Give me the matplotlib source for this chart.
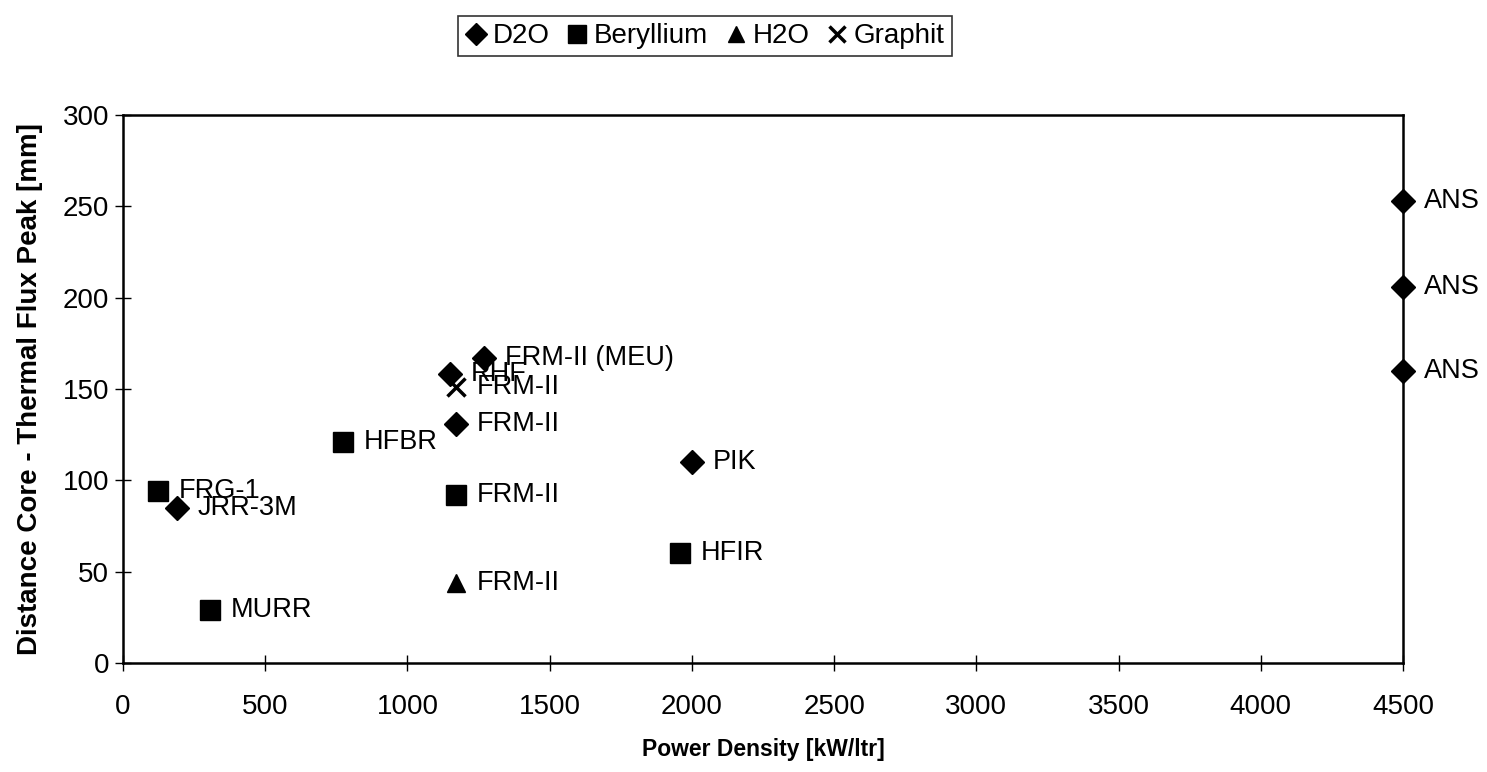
import matplotlib.pyplot as plt
from matplotlib import rcParams

rcParams.update({'font.family': ['Liberation Sans', 'DejaVu Sans']})

# D2O moderated reactors
d2o_x = [4500, 4500, 4500, 1270, 1150, 1170, 2000, 190]
d2o_y = [253, 206, 160, 167, 158, 131, 110, 85]
d2o_names = ['ANS', 'ANS', 'ANS', 'FRM-II (MEU)', 'RHF', 'FRM-II', 'PIK', 'JRR-3M']

# Beryllium
be_x = [123, 773, 1170, 1958, 306]
be_y = [94, 121, 92, 60, 29]
be_names = ['FRG-1', 'HFBR', 'FRM-II', 'HFIR', 'MURR']

# H2O
h2o_x = [1170]
h2o_y = [44]
h2o_names = ['FRM-II']

# Graphit
gr_x = [1170]
gr_y = [151]
gr_names = ['FRM-II']

fig = plt.figure(figsize=(14.87, 7.72), dpi=100)
ax = fig.add_axes([0.0827, 0.1412, 0.8608, 0.7098])

series = [
    (d2o_x, d2o_y, d2o_names, 'D', 12, 'D2O'),
    (be_x, be_y, be_names, 's', 14, 'Beryllium'),
    (h2o_x, h2o_y, h2o_names, '^', 13, 'H2O'),
    (gr_x, gr_y, gr_names, 'x', 13, 'Graphit'),
]
for xs, ys, names, mk, ms, lab in series:
    ax.plot(xs, ys, linestyle='none', marker=mk, markersize=ms, color='black',
            markeredgewidth=2.5 if mk == 'x' else 1, label=lab, clip_on=False, zorder=3)
    for x, y, n in zip(xs, ys, names):
        ax.annotate(n, (x, y), xytext=(15, 0), textcoords='offset points',
                    ha='left', va='center', fontsize=19.5, annotation_clip=False)

ax.set_xlim(0, 4500)
ax.set_ylim(0, 300)
ax.set_xticks(range(0, 4501, 500))
ax.set_yticks(range(0, 301, 50))
ax.tick_params(direction='inout', length=12, width=1, labelsize=20)
ax.tick_params(axis='x', pad=16)
ax.tick_params(axis='y', pad=4)
for s in ax.spines.values():
    s.set_linewidth(1.8)

ax.set_xlabel('Power Density [kW/ltr]', fontsize=16.5, fontweight='bold', labelpad=13)
ax.set_ylabel('Distance Core - Thermal Flux Peak [mm]', fontsize=20, fontweight='bold', labelpad=14)

leg = fig.legend(loc='center', bbox_to_anchor=(0.474, 0.953), ncol=4, fontsize=20,
                 frameon=True, fancybox=False, edgecolor='black', handlelength=0.8,
                 handletextpad=0.2, columnspacing=0.6, borderpad=0.25, markerscale=0.9)
leg.get_frame().set_linewidth(1.2)

fig.savefig('out.png', dpi=100)
